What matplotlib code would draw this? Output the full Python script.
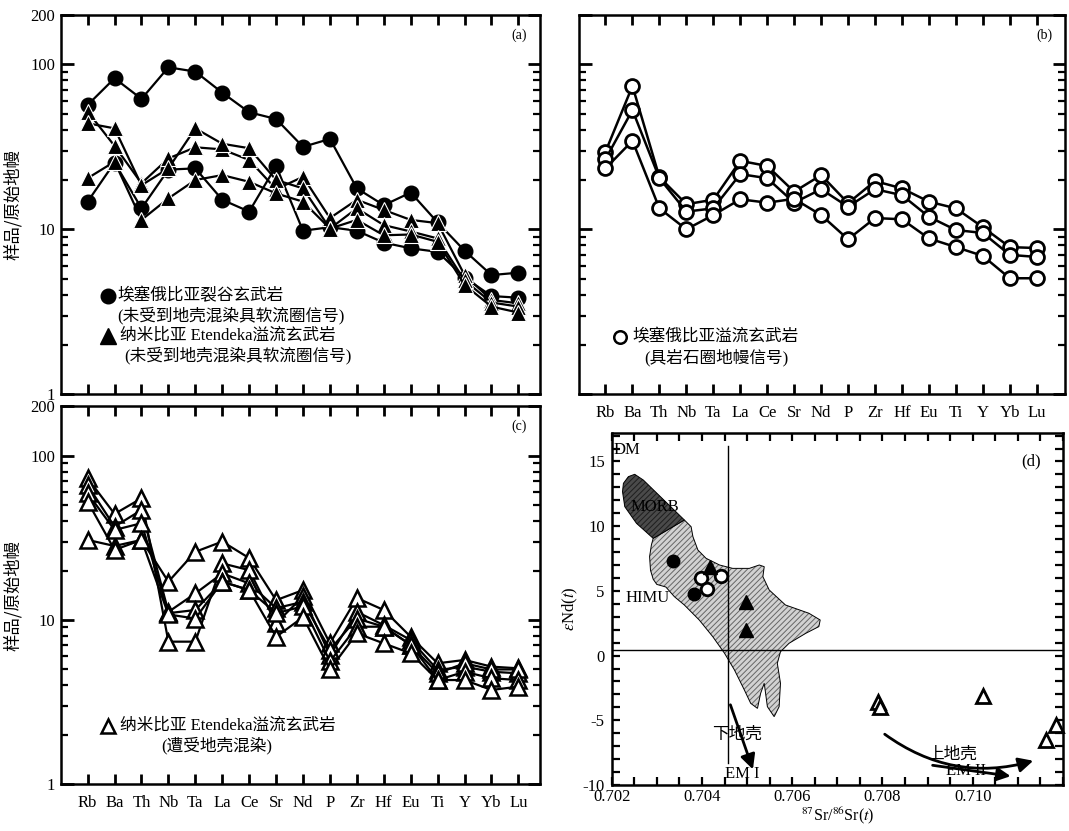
import matplotlib
matplotlib.use('Agg')
import matplotlib.pyplot as plt
from matplotlib.ticker import FixedLocator, NullFormatter, MultipleLocator, FormatStrFormatter
from matplotlib.patches import Polygon

plt.rcParams['font.family'] = ['Liberation Serif', 'Noto Sans CJK SC']
plt.rcParams['mathtext.fontset'] = 'stix'
plt.rcParams['axes.unicode_minus'] = False
plt.rcParams['hatch.linewidth'] = 0.7

elements = ['Rb', 'Ba', 'Th', 'Nb', 'Ta', 'La', 'Ce', 'Sr', 'Nd', 'P', 'Zr', 'Hf', 'Eu', 'Ti', 'Y', 'Yb', 'Lu']

# (a) Ethiopian rift basalts (filled circles)
rift_1 = [56.7, 82.3, 61.7, 95.9, 90.3, 67.3, 51.2, 46.6, 31.6, 35.3, 17.7, 14.0, 16.7, 11.0, 7.42, 5.28, 5.46]
rift_2 = [14.7, 25.4, 13.4, 23.0, 23.4, 15.1, 12.8, 24.2, 9.8, 10.3, 9.8, 8.3, 7.67, 7.3, 5.1, 3.94, 3.85]
# (a) Etendeka, uncontaminated (filled triangles)
etk_1 = [51.7, 32.0, 19.0, 26.9, 31.4, 30.5, 26.3, 17.5, 20.8, 11.7, 15.1, 13.1, 11.4, 10.9, 5.28, 3.73, 3.56]
etk_2 = [43.9, 40.9, 18.5, 23.4, 40.9, 33.0, 31.0, 19.9, 17.7, 10.1, 13.4, 10.6, 9.7, 8.8, 4.9, 3.6, 3.4]
etk_3 = [20.4, 25.7, 11.4, 15.4, 19.9, 21.3, 19.4, 16.5, 14.7, 10.1, 11.4, 9.2, 9.3, 8.4, 4.6, 3.4, 3.13]

# (b) Ethiopian flood basalts (open circles)
efb_1 = [29.5, 73.9, 20.7, 14.2, 15.1, 26.0, 24.2, 16.9, 21.3, 14.4, 19.6, 17.7, 14.7, 13.4, 10.3, 7.8, 7.7]
efb_2 = [26.6, 52.8, 20.4, 12.8, 13.4, 21.6, 20.4, 14.5, 17.5, 13.7, 17.5, 16.1, 11.9, 9.9, 9.5, 7.0, 6.8]
efb_3 = [23.4, 34.4, 13.4, 10.0, 12.2, 15.2, 14.5, 15.3, 12.2, 8.7, 11.7, 11.5, 8.8, 7.8, 6.9, 5.05, 5.05]

# (c) Etendeka, crustally contaminated (open triangles)
etc_1 = [30.7, 28.2, 30.7, 17.1, 26.0, 30.0, 23.8, 13.2, 15.2, 7.2, 13.6, 11.5, 7.9, 5.45, 5.71, 5.2, 5.08]
etc_2 = [72.8, 44.2, 55.0, 7.38, 7.38, 22.1, 20.1, 9.55, 13.9, 6.1, 11.2, 9.3, 7.55, 4.96, 5.2, 4.84, 4.74]
etc_3 = [66.0, 37.0, 46.7, 11.2, 14.5, 19.2, 16.7, 11.8, 12.9, 6.6, 10.2, 9.1, 7.05, 4.74, 5.45, 5.0, 5.0]
etc_4 = [59.0, 35.3, 38.8, 11.0, 11.5, 17.1, 15.2, 11.0, 12.1, 5.6, 9.1, 9.1, 7.05, 4.31, 4.84, 4.42, 4.31]
etc_5 = [52.5, 26.7, 30.7, 10.8, 10.2, 17.1, 15.2, 7.9, 10.4, 5.0, 8.3, 7.2, 6.27, 4.31, 4.31, 3.75, 3.93]

# (d) Sr-Nd isotopes
sr_rift = [0.70336, 0.70383]
nd_rift = [7.31, 4.73]
sr_flood = [0.70398, 0.70411, 0.70442]
nd_flood = [5.97, 5.15, 6.15]
sr_etk = [0.70417, 0.70497, 0.70497]
nd_etk = [6.87, 4.17, 1.98]
sr_etc = [0.70791, 0.70795, 0.71022, 0.71162, 0.71184]
nd_etc = [-3.6, -4.0, -3.15, -6.52, -5.36]

morb_sr = [0.70226, 0.70237, 0.70251, 0.70270, 0.70361, 0.70292, 0.70255, 0.70229, 0.70224]
morb_nd = [13.31, 13.83, 14.01, 13.57, 10.48, 9.06, 10.22, 11.51, 12.67]

field_sr = [0.70361, 0.70376, 0.70380, 0.70391, 0.70409, 0.70439, 0.70468, 0.70505, 0.70527,
            0.70538, 0.70535, 0.70549, 0.70585, 0.70637, 0.70662, 0.70659, 0.70630, 0.70593,
            0.70574, 0.70567, 0.70574, 0.70571, 0.70560, 0.70545, 0.70538, 0.70530, 0.70523,
            0.70508, 0.70494, 0.70472, 0.70450, 0.70424, 0.70394, 0.70361, 0.70339, 0.70320,
            0.70300, 0.70292, 0.70286, 0.70284, 0.70288, 0.70292]
field_nd = [10.48, 9.96, 9.19, 8.16, 7.52, 7.00, 6.74, 6.74, 7.00,
            6.87, 6.10, 5.07, 3.91, 3.27, 2.75, 2.24, 1.72, 0.95,
            0.30, -0.60, -2.14, -3.95, -4.72, -3.95, -2.14, -2.92, -4.08,
            -3.69, -2.66, -1.11, 0.18, 1.46, 2.75, 3.91, 4.55, 5.30,
            5.50, 5.90, 6.60, 7.65, 8.55, 9.06]

zh = ['Liberation Serif', 'Noto Sans CJK SC']

fig = plt.figure(figsize=(10.69, 8.31), dpi=100)
ax_a = fig.add_axes([0.0568, 0.5255, 0.4483, 0.4569])
ax_b = fig.add_axes([0.5412, 0.5255, 0.4551, 0.4569])
ax_c = fig.add_axes([0.0568, 0.0562, 0.4483, 0.4550])
ax_d = fig.add_axes([0.5722, 0.0554, 0.4222, 0.4235])


def spider(ax, xlabels, ylabels, xmax):
    ax.set_yscale('log')
    ax.set_ylim(1, 200)
    ax.set_xlim(-1, xmax)
    ax.set_xticks(range(len(elements)))
    ax.set_xticklabels(elements if xlabels else [], fontsize=12)
    ax.yaxis.set_major_locator(FixedLocator([1, 10, 100, 200]))
    ax.yaxis.set_minor_locator(FixedLocator([2, 3, 4, 5, 6, 7, 8, 9, 20, 30, 40, 50, 60, 70, 80, 90]))
    ax.yaxis.set_minor_formatter(NullFormatter())
    if ylabels:
        ax.set_yticklabels(['1', '10', '100', '200'], fontsize=12)
    else:
        ax.set_yticklabels([])
    ax.tick_params(axis='x', direction='in', top=True, bottom=True, length=7, width=2, pad=8)
    ax.tick_params(axis='y', which='major', direction='in', left=True, right=True, length=9, width=2, pad=4)
    ax.tick_params(axis='y', which='minor', direction='in', left=True, right=True, length=5, width=1.6)
    for s in ax.spines.values():
        s.set_linewidth(1.8)


x = range(len(elements))

# ---- (a)
for s in [rift_1, rift_2]:
    ax_a.plot(x, s, '-o', color='black', lw=1.6, ms=10.5, mfc='black', mec='black')
for s in [etk_1, etk_2, etk_3]:
    ax_a.plot(x, s, '-^', color='black', lw=1.6, ms=11, mfc='black', mec='white', mew=0.8)
spider(ax_a, False, True, 16.8)
ax_a.text(16.3, 150, '(a)', fontsize=10, ha='right', va='center')
ax_a.plot([0.75], [3.95], 'o', color='black', ms=10.5, clip_on=False)
ax_a.text(1.1, 3.95, '埃塞俄比亚裂谷玄武岩', family=zh, fontsize=12, va='center')
ax_a.text(1.1, 3.0, '(未受到地壳混染具软流圈信号)', family=zh, fontsize=12, va='center')
ax_a.plot([0.75], [2.27], '^', color='black', ms=11, clip_on=False)
ax_a.text(1.2, 2.27, '纳米比亚 Etendeka溢流玄武岩', family=zh, fontsize=12, va='center')
ax_a.text(1.35, 1.72, '(未受到地壳混染具软流圈信号)', family=zh, fontsize=12, va='center')
ax_a.set_ylabel('样品/原始地幔', family=['Noto Sans CJK SC'], fontsize=12.5, labelpad=6)

# ---- (b)
for s in [efb_1, efb_2, efb_3]:
    ax_b.plot(x, s, '-o', color='black', lw=1.8, ms=10, mfc='white', mec='black', mew=2)
spider(ax_b, True, False, 17.05)
ax_b.text(16.6, 150, '(b)', fontsize=10, ha='right', va='center')
ax_b.plot([0.55], [2.22], 'o', color='black', ms=9, mfc='white', mew=1.8, clip_on=False)
ax_b.text(1.0, 2.22, '埃塞俄比亚溢流玄武岩', family=zh, fontsize=12, va='center')
ax_b.text(1.45, 1.68, '(具岩石圈地幔信号)', family=zh, fontsize=12, va='center')

# ---- (c)
for s in [etc_1, etc_2, etc_3, etc_4, etc_5]:
    ax_c.plot(x, s, '-^', color='black', lw=1.6, ms=11, mfc='white', mec='black', mew=1.8)
spider(ax_c, True, True, 16.8)
ax_c.text(16.3, 150, '(c)', fontsize=10, ha='right', va='center')
ax_c.plot([0.75], [2.27], '^', color='black', ms=10, mfc='white', mew=1.8, clip_on=False)
ax_c.text(1.2, 2.27, '纳米比亚 Etendeka溢流玄武岩', family=zh, fontsize=12, va='center')
ax_c.text(2.75, 1.72, '(遭受地壳混染)', family=zh, fontsize=12, va='center')
ax_c.set_ylabel('样品/原始地幔', family=['Noto Sans CJK SC'], fontsize=12.5, labelpad=6)

# ---- (d)
field = list(zip(field_sr, field_nd))
morb = list(zip(morb_sr, morb_nd))
ax_d.add_patch(Polygon(field, closed=True, facecolor='#d2d2d2', edgecolor='#666666',
                       lw=0, hatch='//////', zorder=1))
ax_d.add_patch(Polygon(field, closed=True, fill=False, edgecolor='black', lw=0.7, zorder=1))
ax_d.add_patch(Polygon(morb, closed=True, facecolor='#4a4a4a', edgecolor='#1e1e1e',
                       lw=0, hatch='//////', zorder=1))
ax_d.add_patch(Polygon(morb, closed=True, fill=False, edgecolor='black', lw=0.7, zorder=1))
ax_d.axhline(0.45, color='black', lw=1.0, zorder=2)
ax_d.plot([0.70457, 0.70457], [16.2, -8.3], color='black', lw=1.0, zorder=2)
ax_d.plot(sr_rift, nd_rift, 'o', color='black', ms=9, zorder=4)
ax_d.plot(sr_flood, nd_flood, 'o', mfc='white', mec='black', mew=2, ms=9, zorder=4)
ax_d.plot(sr_etk, nd_etk, '^', color='black', ms=10, zorder=4)
ax_d.plot(sr_etc, nd_etc, '^', mfc='white', mec='black', mew=2, ms=10, zorder=4, clip_on=False)

ax_d.text(0.70205, 15.9, 'DM', fontsize=12, va='center')
ax_d.text(0.70295, 11.45, 'MORB', fontsize=12, ha='center', va='center', zorder=3)
ax_d.text(0.70280, 4.45, 'HIMU', fontsize=12, ha='center', va='center')
ax_d.annotate('', xy=(0.70515, -9.0), xytext=(0.70461, -3.6),
              arrowprops=dict(arrowstyle='-|>', color='black', lw=2, mutation_scale=22))
ax_d.text(0.70478, -6.1, '下地壳', family=zh, fontsize=12, ha='center', va='center')
ax_d.text(0.70490, -9.15, 'EM I', fontsize=12, ha='center', va='center')
ax_d.annotate('', xy=(0.71140, -8.07), xytext=(0.70800, -5.95),
              arrowprops=dict(arrowstyle='-|>', color='black', lw=2, mutation_scale=22,
                              connectionstyle='arc3,rad=0.25'))
ax_d.text(0.70955, -7.7, '上地壳', family=zh, fontsize=12, ha='center', va='center')
ax_d.annotate('', xy=(0.71090, -9.35), xytext=(0.70905, -8.45),
              arrowprops=dict(arrowstyle='-|>', color='black', lw=2, mutation_scale=20))
ax_d.text(0.70985, -8.95, 'EM II', fontsize=12, ha='center', va='center')
ax_d.text(0.7113, 15.0, '(d)', fontsize=12, ha='center', va='center')

ax_d.set_xlim(0.702, 0.712)
ax_d.set_ylim(-10, 17.2)
ax_d.xaxis.set_major_locator(FixedLocator([0.702, 0.704, 0.706, 0.708, 0.710]))
ax_d.xaxis.set_major_formatter(FormatStrFormatter('%.3f'))
ax_d.xaxis.set_minor_locator(MultipleLocator(0.0005))
ax_d.yaxis.set_major_locator(FixedLocator([-10, -5, 0, 5, 10, 15]))
ax_d.yaxis.set_minor_locator(MultipleLocator(1))
ax_d.tick_params(which='both', direction='in', top=True, right=True, length=6, width=1.6, labelsize=12)
ax_d.tick_params(axis='x', pad=3)
ax_d.tick_params(axis='y', pad=5)
for s in ax_d.spines.values():
    s.set_linewidth(1.8)
ax_d.set_xlabel(r'$^{87}$Sr/$^{86}$Sr($t$)', fontsize=11.5, labelpad=0)
ax_d.set_ylabel(r'$\varepsilon$Nd($t$)', fontsize=12, labelpad=2)

fig.savefig('out.png', dpi=100)
